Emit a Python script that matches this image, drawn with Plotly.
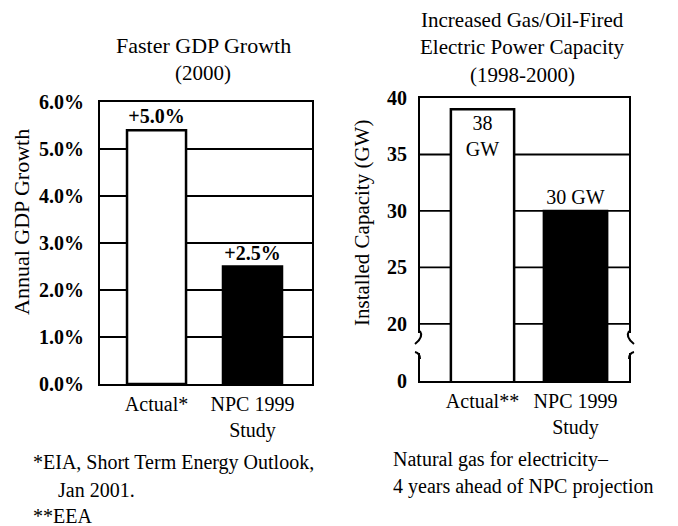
import plotly.graph_objects as go

# ---------------- data ----------------
gdp_categories = ["Actual*", "NPC 1999<br>Study"]
gdp_values = [5.4, 2.5]                 # drawn bar heights (%)
gdp_labels = ["+5.0%", "+2.5%"]
gdp_ticks = [0, 1, 2, 3, 4, 5, 6]
gdp_ticktext = ["0.0%", "1.0%", "2.0%", "3.0%", "4.0%", "5.0%", "6.0%"]
gdp_grid = [1, 2, 3, 4, 5]

cap_categories = ["Actual**", "NPC 1999<br>Study"]
cap_values = [39, 30]                   # GW
cap_labels = ["38<br>GW", "30 GW"]
cap_axis_floor = 14.95                  # broken axis: bottom of box stands for 0
cap_ticks = [cap_axis_floor, 20, 25, 30, 35, 40]
cap_ticktext = ["0", "20", "25", "30", "35", "40"]
cap_grid = [20, 25, 30, 35]

W, H = 678, 526
FONT = "Liberation Serif"


def px(x):
    return x / W


def py(y):
    return 1 - y / H


fig = go.Figure()

fig.add_trace(go.Bar(
    x=gdp_categories, y=gdp_values, text=gdp_labels, width=0.615,
    textposition="outside", constraintext="none", cliponaxis=False,
    textfont=dict(family=FONT, size=20, color="black", weight="bold"),
    marker=dict(color=["white", "black"], line=dict(color="black", width=2.5)),
    xaxis="x", yaxis="y", showlegend=False, hoverinfo="skip"))

fig.add_trace(go.Bar(
    x=cap_categories, y=cap_values, text=cap_labels, width=0.68,
    textposition=["inside", "outside"], insidetextanchor="end",
    constraintext="none", cliponaxis=False, textangle=0,
    textfont=dict(family=FONT, size=20, color="black"),
    insidetextfont=dict(family=FONT, size=20, color="black"),
    outsidetextfont=dict(family=FONT, size=20, color="black"),
    marker=dict(color=["white", "black"], line=dict(color="black", width=2.5)),
    xaxis="x2", yaxis="y2", showlegend=False, hoverinfo="skip"))

axis_common = dict(showline=True, linecolor="black", linewidth=2, mirror=True,
                   showgrid=False, zeroline=False, fixedrange=True, automargin=False)

fig.update_layout(
    template="none",
    width=W, height=H, margin=dict(l=0, r=0, t=0, b=0, pad=0), autosize=False,
    paper_bgcolor="white", plot_bgcolor="white",
    font=dict(family=FONT, size=20, color="black"),
    bargap=0,
    xaxis=dict(domain=[px(100), px(312)], range=[-0.589, 1.62], type="category",
               ticks="outside", ticklen=1, tickcolor="rgba(0,0,0,0)",
               tickfont=dict(family=FONT, size=20, color="black"), **axis_common),
    yaxis=dict(domain=[py(384), py(102)], range=[0, 6.0],
               tickvals=gdp_ticks, ticktext=gdp_ticktext,
               ticks="outside", ticklen=10, tickcolor="rgba(0,0,0,0)",
               tickfont=dict(family=FONT, size=20, color="black", weight="bold"),
               **axis_common),
    xaxis2=dict(domain=[px(420), px(629)], range=[-0.672, 1.575], type="category",
                anchor="y2",
                ticks="outside", ticklen=1, tickcolor="rgba(0,0,0,0)",
                tickfont=dict(family=FONT, size=20, color="black"), **axis_common),
    yaxis2=dict(domain=[py(381), py(98)], range=[cap_axis_floor, 40], anchor="x2",
                tickvals=cap_ticks, ticktext=cap_ticktext,
                ticks="outside", ticklen=7, tickcolor="rgba(0,0,0,0)",
                tickfont=dict(family=FONT, size=20, color="black", weight="bold"),
                **axis_common),
)

shapes = []
for g in gdp_grid:
    shapes.append(dict(type="line", xref="x domain", yref="y", x0=0, x1=1, y0=g, y1=g,
                       line=dict(color="black", width=1.8), layer="below"))
for g in cap_grid:
    shapes.append(dict(type="line", xref="x2 domain", yref="y2", x0=0, x1=1, y0=g, y1=g,
                       line=dict(color="black", width=1.8), layer="below"))


def path(points):
    s = "M {} {}".format(px(points[0][0]), py(points[0][1]))
    rest = points[1:]
    for i in range(0, len(rest), 2):
        (cx, cy), (ex, ey) = rest[i], rest[i + 1]
        s += " Q {} {} {} {}".format(px(cx), py(cy), px(ex), py(ey))
    return s


# axis-break gaps on the right panel box edges
for ex in (420, 629):
    shapes.append(dict(type="rect", xref="paper", yref="paper",
                       x0=px(ex - 4), x1=px(ex + 4), y0=py(353), y1=py(333),
                       fillcolor="white", line=dict(width=0), layer="above"))
brk = dict(type="path", xref="paper", yref="paper", layer="above",
           line=dict(color="black", width=2))
shapes.append(dict(brk, path=path([(420, 331), (424, 337), (415, 344)])))
shapes.append(dict(brk, path=path([(415, 352), (420, 353), (420, 359)])))
shapes.append(dict(brk, path=path([(629, 331), (625, 337), (634, 344)])))
shapes.append(dict(brk, path=path([(634, 352), (629, 353), (629, 359)])))
fig.update_layout(shapes=shapes)

ann = []


def note(text, x, y, xanchor="center", size=20, angle=0):
    ann.append(dict(text=text, x=px(x), y=py(y), xref="paper", yref="paper",
                    xanchor=xanchor, yanchor="middle", showarrow=False,
                    textangle=angle, font=dict(family=FONT, size=size, color="black")))


note("Faster GDP Growth", 203, 45, size=22)
note("(2000)", 203, 73, size=21)
note("Increased Gas/Oil-Fired", 522, 20, size=21)
note("Electric Power Capacity", 522, 47, size=21)
note("(1998-2000)", 522, 75, size=21)
note("Annual GDP Growth", 22, 222, size=22, angle=-90)
note("Installed Capacity (GW)", 362, 223, size=21, angle=-90)
note("*EIA, Short Term Energy Outlook,", 31, 462, xanchor="left")
note("Jan 2001.", 56, 490, xanchor="left")
note("**EEA", 31, 516, xanchor="left")
note("Natural gas for electricity–", 391, 459, xanchor="left")
note("4 years ahead of NPC projection", 391, 486, xanchor="left")
fig.update_layout(annotations=ann)

fig.write_html(
    "out.html",
    config={"displayModeBar": False, "staticPlot": True},
    post_script="document.body.style.margin='0';document.body.style.padding='0';"
                "document.body.style.overflow='hidden';")
